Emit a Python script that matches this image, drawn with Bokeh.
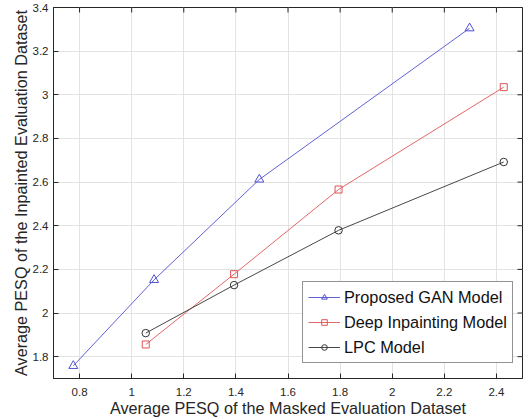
from bokeh.plotting import figure
from bokeh.models import FixedTicker, Legend, LegendItem, Range1d
from bokeh.embed import file_html
from bokeh.resources import INLINE

# data
gan_x = [0.776, 1.086, 1.49, 2.297]
gan_y = [1.758, 2.152, 2.612, 3.305]
deep_x = [1.054, 1.393, 1.794, 2.428]
deep_y = [1.856, 2.178, 2.566, 3.035]
lpc_x = [1.054, 1.393, 1.794, 2.428]
lpc_y = [1.908, 2.128, 2.379, 2.692]
x_ticks = [0.8, 1.0, 1.2, 1.4, 1.6, 1.8, 2.0, 2.2, 2.4]
y_ticks = [1.8, 2.0, 2.2, 2.4, 2.6, 2.8, 3.0, 3.2, 3.4]
x_lim = (0.7, 2.5)
y_lim = (1.7, 3.4)
labels = ["Proposed GAN Model", "Deep Inpainting Model", "LPC Model"]

FONT = "Liberation Sans"
AX = "#262626"
BLUE = "#4f4fd4"
RED = "#e05555"
BLACK = "#333333"

p = figure(width=530, height=419, output_backend="svg", toolbar_location=None,
           x_range=Range1d(*x_lim), y_range=Range1d(*y_lim),
           min_border_left=53, min_border_right=8, min_border_top=7, min_border_bottom=41)
p.outline_line_color = AX
p.outline_line_width = 1
p.background_fill_color = "white"
p.border_fill_color = "white"

def fmt(t):
    s = ("%.1f" % t)
    return s[:-2] if s.endswith(".0") else s

for ax, ticks in ((p.xaxis[0], x_ticks), (p.yaxis[0], y_ticks)):
    ax.ticker = FixedTicker(ticks=ticks)
    ax.major_label_overrides = {t: fmt(t) for t in ticks}
    ax.major_tick_in = 5
    ax.major_tick_out = 0
    ax.minor_tick_line_color = None
    ax.axis_line_color = AX
    ax.major_tick_line_color = AX
    ax.major_label_text_font = FONT
    ax.major_label_text_font_size = "11.5px"
    ax.major_label_text_color = AX
    ax.axis_label_text_font = FONT
    ax.axis_label_text_font_size = "16.2px"
    ax.axis_label_text_font_style = "normal"
    ax.axis_label_text_color = AX

p.xaxis[0].major_label_standoff = 9
p.yaxis[0].major_label_standoff = 5
p.xaxis[0].axis_label = "Average PESQ of the Masked Evaluation Dataset"
p.yaxis[0].axis_label = "Average PESQ of the Inpainted Evaluation Dataset"
p.xaxis[0].axis_label_standoff = 0
p.yaxis[0].axis_label_standoff = 0

p.xgrid.ticker = FixedTicker(ticks=x_ticks)
p.ygrid.ticker = FixedTicker(ticks=y_ticks)
p.grid.grid_line_color = "#e3e3e3"
p.grid.grid_line_width = 1

# inward tick marks on the top and right edges of the box (clipped to the frame)
p.scatter(x_ticks, [y_lim[1]] * len(x_ticks), marker="dash", angle=1.5708, size=10,
          line_color=AX, line_width=1)
p.scatter([x_lim[1]] * len(y_ticks), y_ticks, marker="dash", size=10,
          line_color=AX, line_width=1)

l1 = p.line(gan_x, gan_y, line_color=BLUE, line_width=0.9)
m1 = p.scatter(gan_x, gan_y, marker="triangle", size=9, fill_color=None, line_color=BLUE, line_width=1)
l2 = p.line(deep_x, deep_y, line_color=RED, line_width=0.9)
m2 = p.scatter(deep_x, deep_y, marker="square", size=7, fill_color=None, line_color=RED, line_width=1)
l3 = p.line(lpc_x, lpc_y, line_color=BLACK, line_width=0.9)
m3 = p.scatter(lpc_x, lpc_y, marker="circle", size=7.5, fill_color=None, line_color=BLACK, line_width=1)

legend = Legend(items=[LegendItem(label=labels[0], renderers=[l1, m1]),
                       LegendItem(label=labels[1], renderers=[l2, m2]),
                       LegendItem(label=labels[2], renderers=[l3, m3])],
                location=(249, 15))
legend.label_text_font = FONT
legend.label_text_font_size = "16.3px"
legend.label_text_color = "#111111"
legend.border_line_color = AX
legend.border_line_width = 1
legend.background_fill_color = "white"
legend.background_fill_alpha = 1
legend.glyph_width = 32
legend.glyph_height = 14
legend.label_height = 20
legend.spacing = 5
legend.padding = 5
legend.label_standoff = 4
legend.margin = 0
p.add_layout(legend, "center")

open("out.html", "w").write(file_html(p, INLINE))
